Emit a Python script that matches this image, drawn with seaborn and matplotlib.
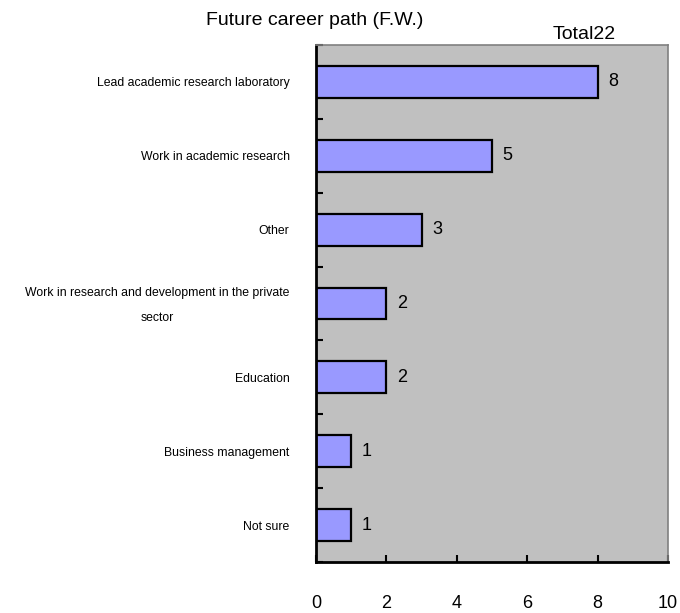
import numpy as np
import pandas as pd
import seaborn as sns
import matplotlib.pyplot as plt

# data
categories = [
    "Lead academic research laboratory",
    "Work in academic research",
    "Other",
    "Work in research and development in the private\n\nsector",
    "Education",
    "Business management",
    "Not sure",
]
counts = [8, 5, 3, 2, 2, 1, 1]
x_ticks = [0, 2, 4, 6, 8, 10]

df = pd.DataFrame({"path": categories, "n": counts})

sns.set_style("white")
plt.rcParams["font.family"] = ["Liberation Sans", "DejaVu Sans"]
plt.rcParams["text.color"] = "black"
plt.rcParams["xtick.color"] = "black"
plt.rcParams["ytick.color"] = "black"

fig = plt.figure(figsize=(6.8, 6.13), dpi=100)
ax = fig.add_axes([0.4647, 0.0832, 0.5176, 0.8434])
ax.set_facecolor("#C0C0C0")

sns.barplot(data=df, x="n", y="path", orient="h", color="#9999FF",
            saturation=1, edgecolor="black", linewidth=1.6, width=0.43, ax=ax)

for i, v in enumerate(counts):
    ax.text(v + 0.3, i, str(v), va="center", ha="left", fontsize=13, color="black")

ax.set_xlim(0, 10)
ax.set_ylim(len(categories) - 0.5, -0.5)
ax.set_xticks(x_ticks)
ax.tick_params(axis="x", bottom=True, direction="in", length=5, width=1.5,
               pad=24, labelsize=13, labelcolor="black")
ax.tick_params(axis="y", which="major", length=0, pad=19, labelsize=8.8,
               labelcolor="black")
ax.set_yticks(np.arange(-0.5, len(categories), 1), minor=True)
ax.tick_params(axis="y", which="minor", left=True, direction="in", length=5, width=1.5)
for lab in ax.get_yticklabels():
    lab.set_multialignment("center")
    lab.set_linespacing(1.1)
ax.set_xlabel("")
ax.set_ylabel("")

for s in ["left", "bottom"]:
    ax.spines[s].set_color("black")
    ax.spines[s].set_linewidth(2)
for s in ["top", "right"]:
    ax.spines[s].set_color("#808080")
    ax.spines[s].set_linewidth(1.2)

fig.text(0.463, 0.967, "Future career path (F.W.)", ha="center", va="center", fontsize=14)
fig.text(0.859, 0.943, "Total22", ha="center", va="center", fontsize=14)

fig.savefig("out.png", dpi=100)
